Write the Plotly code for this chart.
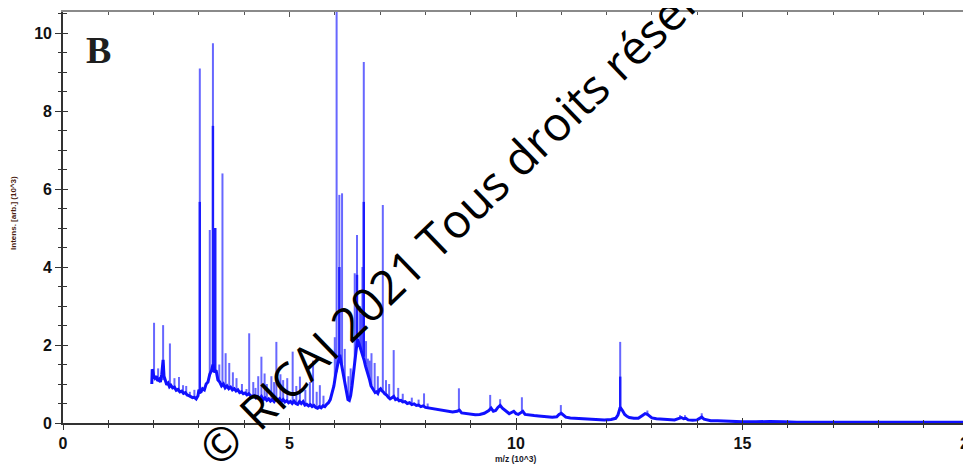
import plotly.graph_objects as go

# ---- baseline (m/z in 10^3, intensity in 10^3 arb.) ----
base_mz = [1.96, 1.97, 2.00, 2.03, 2.06, 2.09, 2.12, 2.15, 2.18, 2.21, 2.23, 2.26, 2.29, 2.32, 2.35,
           2.38, 2.42, 2.46, 2.50, 2.54, 2.58, 2.62, 2.66, 2.70, 2.74, 2.78, 2.82, 2.86, 2.90, 2.94,
           2.98, 3.00, 3.04, 3.08, 3.12, 3.16, 3.20, 3.24, 3.28, 3.31, 3.34, 3.38, 3.42, 3.46, 3.50,
           3.54, 3.58, 3.62, 3.66, 3.70, 3.74, 3.78, 3.82, 3.86, 3.90, 3.94, 3.98, 4.02, 4.06, 4.10,
           4.14, 4.18, 4.22, 4.26, 4.30, 4.34, 4.38, 4.42, 4.46, 4.50, 4.54, 4.58, 4.62, 4.66, 4.70,
           4.74, 4.78, 4.82, 4.86, 4.90, 4.94, 4.98, 5.02, 5.06, 5.10, 5.14, 5.18, 5.22, 5.26, 5.30,
           5.34, 5.38, 5.42, 5.46, 5.50, 5.54, 5.58, 5.62, 5.66, 5.70, 5.74, 5.78, 5.82, 5.86, 5.90,
           5.94, 5.98, 6.02, 6.05, 6.08, 6.11, 6.14, 6.17, 6.20, 6.23, 6.26, 6.29, 6.32, 6.35, 6.38,
           6.41, 6.44, 6.47, 6.50, 6.53, 6.56, 6.59, 6.62, 6.65, 6.68, 6.71, 6.74, 6.77, 6.80, 6.83,
           6.86, 6.89, 6.92, 6.95, 6.98, 7.01, 7.04, 7.07, 7.10, 7.14, 7.18, 7.22, 7.26, 7.30, 7.34,
           7.38, 7.42, 7.46, 7.50, 7.55, 7.60, 7.65, 7.70, 7.75, 7.80, 7.85, 7.90, 7.95, 8.00, 8.10,
           8.20, 8.30, 8.40, 8.50, 8.60, 8.70, 8.75, 8.80, 8.90, 9.00, 9.10, 9.20, 9.30, 9.40, 9.45,
           9.50, 9.55, 9.60, 9.65, 9.70, 9.75, 9.80, 9.85, 9.90, 9.95, 10.00, 10.05, 10.10, 10.15, 10.20,
           10.30, 10.40, 10.50, 10.60, 10.70, 10.80, 10.90, 10.95, 11.00, 11.05, 11.10, 11.20, 11.35, 11.50,
           11.65, 11.80, 11.95, 12.10, 12.20, 12.25, 12.30, 12.35, 12.40, 12.45, 12.50, 12.60, 12.70, 12.80,
           12.85, 12.90, 12.95, 13.00, 13.10, 13.20, 13.35, 13.50, 13.60, 13.65, 13.70, 13.75, 13.80, 13.90,
           14.00, 14.10, 14.15, 14.30, 14.45, 14.60, 14.80, 15.00, 15.30, 15.60, 15.90, 16.20, 17.00, 18.00,
           19.00, 20.00]
base_int = [1.00, 1.38, 1.22, 1.15, 1.20, 1.08, 1.12, 1.05, 1.25, 1.62, 1.20, 1.05, 0.98, 1.02, 0.93,
            0.97, 0.90, 0.92, 0.84, 0.86, 0.80, 0.82, 0.76, 0.78, 0.72, 0.70, 0.68, 0.65, 0.66, 0.62,
            0.70, 0.85, 0.78, 0.88, 0.85, 1.00, 1.05, 1.25, 1.35, 1.50, 1.30, 1.35, 1.10, 1.05, 0.95,
            1.00, 0.90, 0.95, 0.88, 0.92, 0.85, 0.88, 0.82, 0.85, 0.78, 0.80, 0.75, 0.77, 0.72, 0.75,
            0.70, 0.68, 0.70, 0.64, 0.67, 0.62, 0.68, 0.60, 0.64, 0.58, 0.62, 0.56, 0.60, 0.55, 0.62,
            0.58, 0.62, 0.55, 0.60, 0.54, 0.57, 0.52, 0.55, 0.50, 0.56, 0.50, 0.48, 0.55, 0.50, 0.55,
            0.46, 0.48, 0.44, 0.47, 0.42, 0.45, 0.40, 0.38, 0.42, 0.39, 0.44, 0.42, 0.48, 0.52, 0.60,
            0.78, 0.95, 1.25, 1.45, 1.65, 1.75, 1.55, 1.35, 1.15, 0.90, 0.72, 0.60, 0.58, 0.70, 0.95,
            1.25, 1.60, 1.95, 2.15, 2.05, 1.95, 1.85, 1.75, 1.60, 1.45, 1.35, 1.20, 1.10, 0.95, 0.90,
            0.82, 0.78, 0.80, 0.76, 0.85, 0.88, 0.82, 0.80, 0.75, 0.72, 0.66, 0.62, 0.65, 0.68, 0.60,
            0.62, 0.57, 0.58, 0.54, 0.55, 0.50, 0.52, 0.47, 0.49, 0.45, 0.46, 0.42, 0.44, 0.40, 0.38,
            0.36, 0.33, 0.31, 0.29, 0.28, 0.30, 0.33, 0.26, 0.24, 0.22, 0.21, 0.22, 0.25, 0.32, 0.38,
            0.30, 0.32, 0.40, 0.45, 0.38, 0.33, 0.27, 0.24, 0.27, 0.30, 0.24, 0.22, 0.26, 0.30, 0.22,
            0.20, 0.19, 0.18, 0.17, 0.16, 0.15, 0.16, 0.22, 0.25, 0.20, 0.15, 0.13, 0.12, 0.10,
            0.10, 0.08, 0.08, 0.09, 0.12, 0.20, 0.40, 0.32, 0.22, 0.17, 0.14, 0.12, 0.12, 0.20,
            0.24, 0.22, 0.18, 0.13, 0.11, 0.10, 0.09, 0.08, 0.12, 0.14, 0.11, 0.12, 0.08, 0.07,
            0.08, 0.15, 0.10, 0.06, 0.06, 0.05, 0.04, 0.03, 0.03, 0.04, 0.03, 0.02, 0.02, 0.02,
            0.02, 0.02]

# ---- peaks: position, apex and foot ----
peak_mz = [2.01, 2.10, 2.21, 2.36, 2.46, 2.56, 2.65, 2.72, 2.80, 2.90, 3.02, 3.24, 3.31, 3.36,
           3.45, 3.52, 3.59, 3.67, 3.75, 3.83, 3.95, 4.05, 4.11, 4.20, 4.25, 4.31, 4.38, 4.45,
           4.50, 4.60, 4.66, 4.71, 4.80, 4.86, 4.95, 5.07, 5.15, 5.23, 5.35, 5.45, 5.52, 5.60,
           5.67, 5.75, 6.00, 6.04, 6.10, 6.16, 6.22, 6.30, 6.35, 6.44, 6.49, 6.55, 6.58, 6.61,
           6.64, 6.69, 6.73, 6.77, 6.81, 6.88, 6.95, 7.06, 7.13, 7.20, 7.30, 7.40, 7.50, 7.70,
           7.85, 7.97, 8.05, 8.74, 9.43, 9.65, 10.13, 10.99, 12.30, 12.90, 13.62, 13.73, 14.10]
peak_top = [2.57, 1.40, 2.51, 2.04, 1.15, 1.18, 0.97, 0.95, 0.80, 0.85, 9.09, 4.95, 9.74, 5.00,
            1.50, 6.40, 1.79, 1.54, 1.30, 1.15, 1.00, 0.87, 2.30, 1.05, 0.90, 1.20, 1.70, 1.27,
            1.00, 1.20, 1.05, 2.08, 1.25, 1.10, 1.15, 1.83, 0.95, 1.19, 0.85, 1.05, 1.60, 0.80,
            0.97, 0.70, 2.20, 10.6, 5.85, 5.89, 1.90, 1.20, 1.40, 3.84, 4.82, 3.00, 2.80, 4.00,
            9.26, 2.10, 1.65, 1.60, 1.79, 1.54, 1.20, 5.59, 1.10, 1.00, 1.87, 0.90, 0.75, 0.65,
            0.60, 0.76, 0.50, 0.89, 0.72, 0.61, 0.66, 0.46, 2.08, 0.32, 0.20, 0.20, 0.25]
peak_foot = [1.20, 1.08, 1.10, 0.95, 0.92, 0.84, 0.78, 0.76, 0.67, 0.65, 0.75, 1.20, 1.40, 1.30,
             1.05, 0.95, 0.90, 0.88, 0.85, 0.85, 0.80, 0.75, 0.72, 0.70, 0.68, 0.65, 0.63, 0.62,
             0.60, 0.58, 0.56, 0.62, 0.60, 0.60, 0.57, 0.55, 0.52, 0.53, 0.50, 0.46, 0.45, 0.40,
             0.42, 0.40, 1.10, 1.30, 1.70, 1.50, 1.10, 0.60, 0.70, 1.50, 2.00, 2.00, 1.90, 1.80,
             1.70, 1.50, 1.30, 1.10, 0.95, 0.85, 0.80, 0.80, 0.72, 0.66, 0.65, 0.60, 0.55, 0.47,
             0.46, 0.42, 0.40, 0.30, 0.35, 0.45, 0.28, 0.20, 0.38, 0.20, 0.12, 0.10, 0.12]

# darker cores of the strongest peaks
core_mz = [3.02, 3.31, 3.36, 6.10, 6.49, 6.64, 12.30]
core_top = [5.67, 7.62, 5.00, 4.00, 3.80, 5.67, 1.19]
core_foot = [0.75, 1.40, 1.30, 1.70, 2.00, 1.70, 0.38]


def segments(xs, tops, feet):
    sx, sy = [], []
    for x, t, f in zip(xs, tops, feet):
        sx += [x, x, None]
        sy += [f, t, None]
    return sx, sy


px_, py_ = segments(peak_mz, peak_top, peak_foot)
cx_, cy_ = segments(core_mz, core_top, core_foot)

fig = go.Figure()
fig.add_trace(go.Scatter(x=px_, y=py_, mode="lines",
                         line=dict(color="rgba(45,45,255,0.72)", width=2),
                         hoverinfo="skip", showlegend=False))
fig.add_trace(go.Scatter(x=cx_, y=cy_, mode="lines",
                         line=dict(color="#1c1cff", width=2.4),
                         hoverinfo="skip", showlegend=False))
fig.add_trace(go.Scatter(x=base_mz, y=base_int, mode="lines",
                         line=dict(color="#1010ff", width=3),
                         hoverinfo="skip", showlegend=False))

tickfont = dict(family="Liberation Sans", size=16, color="#111111", weight="bold")
XR = [0, 20]
YR = [0, 10.54]

fig.update_layout(
    width=963, height=458,
    margin=dict(l=55, r=2, t=4, b=43, autoexpand=False),
    paper_bgcolor="white", plot_bgcolor="white",
    showlegend=False,
    xaxis=dict(range=XR, dtick=5, tick0=0, ticks="outside", ticklen=5, tickwidth=1.3,
               tickcolor="#333", showline=True, linecolor="#333", linewidth=1.6,
               showgrid=False, zeroline=False, tickfont=tickfont, automargin=False,
               ticklabeloverflow="allow",
               minor=dict(dtick=1, ticks="outside", ticklen=3, tickcolor="#333", showgrid=False)),
    xaxis2=dict(range=XR, overlaying="x", side="bottom", anchor="y", dtick=5, tick0=0,
                ticks="inside", ticklen=5, tickwidth=1.3, tickcolor="#333", automargin=False,
                showticklabels=False, showgrid=False, zeroline=False, showline=False,
                minor=dict(dtick=1, ticks="inside", ticklen=3, tickcolor="#333", showgrid=False)),
    xaxis3=dict(range=XR, overlaying="x", side="top", anchor="y", dtick=5, tick0=0,
                ticks="inside", ticklen=5, tickwidth=1.2, tickcolor="#555", automargin=False,
                showticklabels=False, showgrid=False, zeroline=False,
                showline=True, linecolor="#8a8a8a", linewidth=2.2,
                minor=dict(dtick=1, ticks="inside", ticklen=3, tickcolor="#555", showgrid=False)),
    yaxis=dict(range=YR, dtick=2, tick0=0, ticks="outside", ticklen=6, tickwidth=1.3,
               tickcolor="#333", showline=True, linecolor="#333", linewidth=1.6,
               showgrid=False, zeroline=False, tickfont=tickfont, automargin=False,
               minor=dict(dtick=0.5, ticks="outside", ticklen=3, tickcolor="#333", showgrid=False)),
    yaxis2=dict(range=YR, overlaying="y", side="left", anchor="x", dtick=2, tick0=0,
                ticks="inside", ticklen=5, tickwidth=1.3, tickcolor="#333", automargin=False,
                showticklabels=False, showgrid=False, zeroline=False,
                showline=True, linecolor="#333", linewidth=1.6, mirror="ticks",
                minor=dict(dtick=0.5, ticks="inside", ticklen=4, tickcolor="#333", showgrid=False)),
)

# empty trace so the extra axes are registered
fig.add_trace(go.Scatter(x=[], y=[], xaxis="x2", yaxis="y2", showlegend=False))
fig.add_trace(go.Scatter(x=[], y=[], xaxis="x3", yaxis="y2", showlegend=False))

fig.add_annotation(text="B", xref="paper", yref="paper", x=0.0395, y=0.907,
                   xanchor="center", yanchor="middle", showarrow=False,
                   font=dict(family="Liberation Serif", size=38, color="#1e1e1e", weight="bold"))
fig.add_annotation(text="Intens. [arb.] (10^3)", xref="paper", yref="paper",
                   x=-0.0546, y=0.51, xanchor="center", yanchor="middle",
                   textangle=-90, showarrow=False,
                   font=dict(family="Liberation Sans", size=8, color="#4a1c10", weight="bold"))
fig.add_annotation(text="m/z (10^3)", xref="paper", yref="paper",
                   x=0.5, y=-0.088, xanchor="center", yanchor="middle", showarrow=False,
                   font=dict(family="Liberation Sans", size=8.5, color="#1a1a2a", weight="bold"))
# watermark
fig.add_annotation(text="©", xref="paper", yref="paper", x=0.173, y=-0.049,
                   xanchor="center", yanchor="middle", textangle=-44, showarrow=False,
                   font=dict(family="Open Sans", size=46, color="black"))
fig.add_annotation(text="RICAI 2021 Tous droits réservés", xref="paper", yref="paper",
                   x=0.476, y=0.590, xanchor="center", yanchor="middle",
                   textangle=-44, showarrow=False,
                   font=dict(family="Open Sans", size=47, color="black"))

fig.write_html("out.html")
